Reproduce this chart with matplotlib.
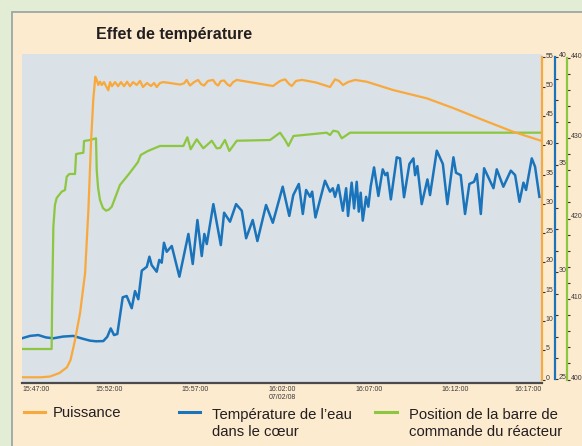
import matplotlib.pyplot as plt
from matplotlib.patches import Rectangle
from matplotlib.lines import Line2D
from matplotlib.ticker import MultipleLocator

plt.rcParams["font.family"] = ["Liberation Sans", "DejaVu Sans"]

# time in minutes since 15:47:00 (07/02/08)
power_t = [0, 1.10, 1.62, 2.16, 2.59, 2.80, 3.06, 3.35, 3.64, 3.83, 3.98, 4.11, 4.23, 4.31,
           4.40, 4.50, 4.60, 4.73, 4.85, 4.98, 5.08, 5.19, 5.37, 5.54, 5.71, 5.89, 6.06, 6.23,
           6.41, 6.62, 6.81, 6.98, 7.21, 7.44, 7.62, 7.77, 7.96, 8.14, 8.54, 9.12, 9.35, 9.50,
           9.69, 9.93, 10.16, 10.33, 10.50, 10.73, 11.02, 11.19, 11.31, 11.48, 11.66, 11.83,
           12.00, 12.18, 12.39, 14.48, 14.89, 15.18, 15.41, 15.56, 15.81, 16.16, 16.96, 17.77,
           18.06, 18.29, 18.52, 18.81, 19.21, 19.89, 21.41, 23.35, 24.87, 26.60, 28.33, 30.0]
power = [0.38, 0.38, 0.51, 1.11, 2.07, 3.33, 6.75, 11.36, 18.19, 28.95, 40.39, 47.74, 51.72, 51.17,
         50.3, 50.86, 50.3, 50.8, 50.1, 49.4, 50.8, 50.1, 50.8, 50.1, 50.8, 50.1, 50.86, 50.1,
         50.8, 50.3, 51.0, 49.95, 50.64, 50.13, 50.64, 49.95, 50.64, 50.8, 50.64, 50.38, 50.59, 51.17,
         50.21, 50.8, 51.17, 50.47, 50.21, 51.0, 51.17, 50.47, 50.21, 51.0, 51.07, 50.47,
         50.13, 50.8, 51.17, 50.13, 51.0, 51.27, 50.47, 50.13, 51.0, 51.17, 50.73, 49.96,
         51.27, 51.0, 50.3, 50.81, 51.17, 50.86, 49.44, 48.03, 46.37, 44.32, 42.32, 40.73]

temp_t = [0, 0.46, 0.94, 1.38, 1.81, 2.37, 2.96, 3.46, 3.92, 4.27, 4.69, 4.92, 5.12, 5.31, 5.50,
          5.81, 6.04, 6.33, 6.52, 6.71, 6.91, 7.20, 7.35, 7.48, 7.77, 7.92, 8.06, 8.19, 8.35,
          8.64, 9.08, 9.60, 9.85, 10.12, 10.37, 10.52, 10.66, 11.04, 11.47, 11.66, 12.00, 12.35,
          12.68, 12.93, 13.31, 13.58, 14.08, 14.47, 15.04, 15.42, 15.65, 15.97, 16.20, 16.39,
          16.62, 16.74, 16.93, 17.48, 17.77, 17.93, 18.06, 18.25, 18.51, 18.70, 18.81, 19.02,
          19.16, 19.31, 19.43, 19.54, 19.66, 19.85, 19.98, 20.12, 20.31, 20.56, 20.81, 20.96,
          21.08, 21.28, 21.62, 21.81, 22.04, 22.35, 22.58, 22.68, 22.81, 23.06, 23.39, 23.54,
          23.93, 24.28, 24.54, 24.89, 25.04, 25.31, 25.56, 25.81, 26.08, 26.24, 26.47, 26.66,
          27.20, 27.39, 27.77, 28.20, 28.45, 28.70, 28.93, 29.08, 29.41, 29.60, 29.85]
temp = [26.92, 27.03, 27.07, 26.96, 26.92, 27.0, 27.03, 26.91, 26.81, 26.78, 26.79, 26.99, 27.38, 27.07, 27.12,
        28.83, 28.89, 28.32, 29.12, 28.74, 30.07, 30.25, 30.72, 30.33, 30.02, 30.57, 30.44, 31.37, 30.95,
        31.22, 29.79, 31.78, 30.38, 32.43, 30.75, 31.78, 31.31, 33.17, 31.26, 32.77, 32.35, 33.17,
        32.86, 31.58, 32.43, 31.45, 33.13, 32.30, 33.98, 32.62, 33.59, 34.11, 32.71, 33.83,
        33.51, 33.75, 32.55, 34.26, 33.75, 33.91, 33.51, 34.06, 32.86, 33.91, 32.62, 34.17,
        32.97, 34.21, 32.82, 33.70, 32.40, 33.51, 33.05, 34.01, 34.88, 33.55, 34.79, 34.52,
        34.63, 33.39, 35.35, 35.30, 33.49, 35.04, 35.30, 34.52, 34.94, 33.17, 34.32, 33.59,
        35.66, 35.04, 33.17, 35.35, 34.63, 34.52, 32.71, 34.11, 34.21, 34.57, 32.71, 34.84,
        33.91, 34.79, 33.98, 34.73, 34.52, 33.28, 34.17, 33.83, 35.30, 34.91, 33.51]

rod_t = [0, 1.71, 1.74, 1.81, 1.90, 2.00, 2.29, 2.48, 2.58, 2.73, 3.06, 3.12, 3.54, 3.58, 3.92,
         4.27, 4.31, 4.39, 4.50, 4.67, 4.85, 5.02, 5.18, 5.37, 5.65, 6.12, 6.52, 6.69, 6.85,
         7.27, 7.77, 7.96, 9.31, 9.54, 9.73, 10.08, 10.46, 10.95, 11.23, 11.43, 11.71, 11.96,
         12.39, 14.31, 14.89, 15.18, 15.37, 15.66, 17.58, 17.77, 17.96, 18.23, 18.45, 18.93, 30.0]
rod = [403.79, 403.79, 409.88, 418.98, 421.68, 422.55, 423.33, 423.54, 425.19, 425.53, 425.53, 428.01, 428.17, 429.63, 429.75,
       429.96, 426.02, 423.79, 422.30, 421.30, 420.97, 421.12, 421.47, 422.55, 424.16, 425.40, 426.52, 427.02, 427.89,
       428.39, 428.84, 429.01, 429.01, 430.09, 428.60, 429.84, 428.72, 429.66, 428.72, 428.76, 429.75, 428.39,
       429.66, 429.75, 430.66, 429.75, 429.01, 430.25, 430.66, 430.37, 430.91, 430.78, 429.96, 430.66, 430.66]

tick_minutes = [0, 5, 10, 15, 20, 25, 30]
tick_labels = ["15:47:00", "15:52:00", "15:57:00", "16:02:00\n07/02/08",
               "16:07:00", "16:12:00", "16:17:00"]
grid_minutes = [10, 15, 25]

title = "Effet de température"
names = ["Puissance", "Température de l’eau\ndans le cœur",
         "Position de la barre de\ncommande du réacteur"]

ORANGE = "#f9a93b"
BLUE = "#1a74bb"
GREEN = "#8dc63f"
INK = "#231f20"
W, H = 582, 446

fig = plt.figure(figsize=(W / 100, H / 100), dpi=100, facecolor="#e3edd6")
fig.patches.append(Rectangle((12 / W, -0.05), 1.0, (H - 12) / H + 0.05, zorder=-5,
                             transform=fig.transFigure, fc="#fdebd0", ec="#9ca7a7", lw=1.3))

ax = fig.add_axes([22 / W, 1 - 383.3 / H, 520 / W, 329 / H])
ax.set_facecolor("#dae1e7")
ax_g = ax.twinx()
ax_o = ax.twinx()


def span(lo, hi):
    r = hi - lo
    return lo - r * 3.8 / 322, hi + r * 3.2 / 322


def style_right(a, color, pos, lo, hi, major, minor=None):
    for s in a.spines.values():
        s.set_visible(False)
    sp = a.spines["right"]
    sp.set_visible(True)
    sp.set_position(("axes", pos))
    sp.set_color(color)
    sp.set_linewidth(1.6)
    sp.set_bounds(lo, hi)
    a.yaxis.set_ticks_position("right")
    a.set_ylim(*span(lo, hi))
    a.set_yticks(range(lo, hi + 1, major))
    if minor:
        a.yaxis.set_minor_locator(MultipleLocator(minor))
    a.tick_params(axis="y", which="both", direction="out", color="#333333", width=0.8,
                  labelsize=5, labelcolor="#3a3a3a", pad=0.3)
    a.tick_params(axis="y", which="major", length=2.5)
    a.tick_params(axis="y", which="minor", length=2)
    for lab in a.get_yticklabels():
        lab.set_verticalalignment("baseline")


style_right(ax, BLUE, 1.025, 25, 40, 5, 1)
style_right(ax_g, GREEN, 1.048, 400, 440, 10, 2)
style_right(ax_o, ORANGE, 1.0, 0, 55, 5)

ax.spines["bottom"].set_visible(True)
ax.spines["bottom"].set_color("#4a4a4a")
ax.spines["bottom"].set_linewidth(1.6)

ax.plot(temp_t, temp, color=BLUE, lw=1.8, solid_joinstyle="round")
ax_g.plot(rod_t, rod, color=GREEN, lw=1.6, solid_joinstyle="round")
ax_o.plot(power_t, power, color=ORANGE, lw=1.6, solid_joinstyle="round")

ax.set_xlim(0, 30)
ax.set_xticks(tick_minutes, tick_labels)
ax.set_xticks(grid_minutes, minor=True)
ax.tick_params(axis="x", which="both", length=0, pad=2, labelsize=5, labelcolor="#3a3a3a")
xl = ax.get_xticklabels()
xl[0].set_horizontalalignment("left")
xl[-1].set_horizontalalignment("right")
ax.grid(False)
ax.grid(True, which="minor", axis="x", color="white", lw=1.2)
ax.set_axisbelow(True)

fig.text(174.5 / W, 1 - 35 / H, title, ha="center", va="center", fontsize=11.5,
         fontweight="bold", color=INK)

# legend
colors = [ORANGE, BLUE, GREEN]
line_x = [(24, 45), (179, 200), (375, 397)]
text_x = [53, 211.7, 409.3]
for c, (x0, x1), tx, name in zip(colors, line_x, text_x, names):
    fig.add_artist(Line2D([x0 / W, x1 / W], [1 - 411.7 / H] * 2, transform=fig.transFigure,
                          color=c, lw=2.2))
    base = 416.7 + 19.3 * name.count("\n")
    fig.text(tx / W, 1 - base / H, name, ha="left", va="baseline", fontsize=10.7,
             color=INK, linespacing=1.31)

fig.savefig("out.png", dpi=100, facecolor=fig.get_facecolor())
